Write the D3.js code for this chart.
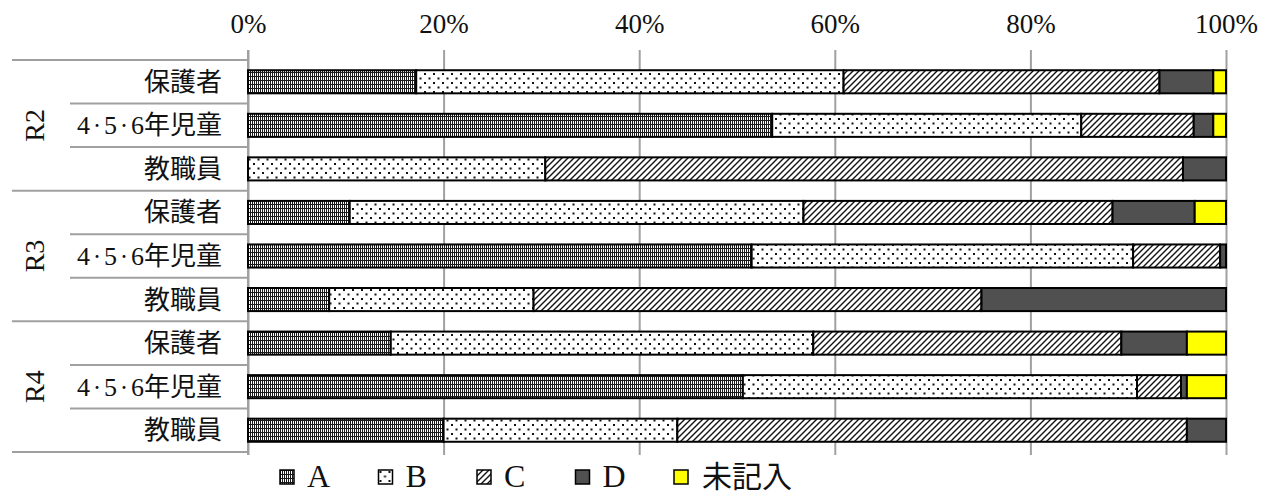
<!DOCTYPE html>
<html><head><meta charset="utf-8">
<script src="https://cdn.jsdelivr.net/npm/d3@7"></script>
<style>
body{margin:0;background:#fff;}
text{font-family:"Liberation Serif","Noto Sans CJK JP",serif;fill:#111;}
.cjk{font-family:"Noto Sans CJK JP",sans-serif;}
</style></head>
<body><svg id="chart" width="1272" height="493"></svg>
<script>
const groups = ["R2","R3","R4"];
const respondents = ["保護者","4・5・6年児童","教職員"];
const seriesNames = ["A","B","C","D","未記入"];
const valuesA = [17.2,53.6,0,   10.4,51.5,8.3,  14.6,50.6,20.0];
const valuesB = [43.7,31.6,30.4, 46.4,39.0,20.9, 43.2,40.3,23.9];
const valuesC = [32.3,11.5,65.2, 31.6,8.9,45.8,  31.5,4.5,52.1];
const valuesD = [5.5,2.0,4.4,    8.4,0.6,25.0,   6.7,0.6,4.0];
const valuesN = [1.3,1.3,0,      3.2,0,0,        4.0,4.0,0];
const tickValues = [0,20,40,60,80,100];

const seriesValues = [valuesA,valuesB,valuesC,valuesD,valuesN];
const rows = [];
groups.forEach((g,gi)=>respondents.forEach((r,ri)=>{
  const i = gi*respondents.length+ri;
  const o = {key:g+"|"+r, group:g, label:r};
  seriesNames.forEach((s,si)=>o[s]=seriesValues[si][i]);
  rows.push(o);
}));

const svg = d3.select("#chart");
const defs = svg.append("defs");
// A: dense dot grid pattern
const pA = defs.append("pattern").attr("id","pA").attr("patternUnits","userSpaceOnUse").attr("width",4).attr("height",4);
pA.append("rect").attr("width",4).attr("height",4).attr("fill","#fff");
[[0,0],[0,1],[0,2],[0,3],[2,0],[2,2],[1,0],[3,0],[2,1],[2,3]].forEach(([px,py])=>
  pA.append("rect").attr("x",px).attr("y",py).attr("width",1).attr("height",1).attr("fill","#1a1a1a"));
// B: sparse dots
const pB = defs.append("pattern").attr("id","pB").attr("patternUnits","userSpaceOnUse").attr("width",9).attr("height",9);
pB.append("rect").attr("width",9).attr("height",9).attr("fill","#fff");
pB.append("rect").attr("x",1).attr("y",1).attr("width",2).attr("height",2).attr("fill","#111");
pB.append("rect").attr("x",5.5).attr("y",5.5).attr("width",2).attr("height",2).attr("fill","#111");
// C: diagonal hatch
const pC = defs.append("pattern").attr("id","pC").attr("patternUnits","userSpaceOnUse").attr("width",6).attr("height",6);
pC.append("rect").attr("width",6).attr("height",6).attr("fill","#fff");
pC.append("path").attr("d","M-1,7 L7,-1 M-1,1 L1,-1 M5,7 L7,5").attr("stroke","#111").attr("stroke-width",1.4);

const fills = {"A":"url(#pA)","B":"url(#pB)","C":"url(#pC)","D":"#505050","未記入":"#ffff00"};

const m = {left:248, right:1226, top:60, bottom:452};
const x = d3.scaleLinear().domain([0,100]).range([m.left,m.right]);
const y = d3.scaleBand().domain(rows.map(d=>d.key)).range([m.top,m.bottom]).paddingInner(0.47).paddingOuter(0.235);
const yRow = d3.scaleBand().domain(rows.map(d=>d.key)).range([m.top,m.bottom]);

// gridlines
const grid = svg.append("g").attr("transform",`translate(0,${m.top})`)
  .call(d3.axisTop(x).tickValues(tickValues).tickSize(-(m.bottom-m.top)-3).tickFormat(""));
grid.select(".domain").remove();
grid.selectAll(".tick line").attr("stroke","#a0a0a0").attr("stroke-width",2).attr("y1",-10);

// top axis labels
const ax = svg.append("g").attr("transform",`translate(0,${m.top})`)
  .call(d3.axisTop(x).tickValues(tickValues).tickSize(0).tickPadding(0).tickFormat(d=>d+"%"));
ax.select(".domain").remove();
ax.selectAll("text").attr("y",-27).attr("font-size",27).attr("fill","#111").attr("dy",null);

// left structure lines
svg.append("line").attr("x1",m.left).attr("x2",m.left).attr("y1",m.top-10).attr("y2",m.bottom+3).attr("stroke","#a0a0a0").attr("stroke-width",2);
const sep = svg.append("g").attr("stroke","#a0a0a0").attr("stroke-width",2);
rows.forEach((d,i)=>{
  const yy = yRow(d.key);
  const ri = i%respondents.length;
  sep.append("line").attr("x1", ri===0?12:70).attr("x2",m.left).attr("y1",yy).attr("y2",yy);
});
sep.append("line").attr("x1",12).attr("x2",m.left).attr("y1",m.bottom).attr("y2",m.bottom);

// category labels (narrow middle dots)
const lab = svg.append("g").selectAll("text").data(rows).join("text")
  .attr("x",222).attr("y",d=>yRow(d.key)+yRow.bandwidth()/2+9)
  .attr("text-anchor","end").attr("font-size",26);
lab.each(function(d){
  const t = d3.select(this);
  const parts = d.label.split(/(・)/);
  parts.forEach((p,pi)=>{
    if(p==="") return;
    const ts = t.append("tspan").text(p);
    if(p==="・"){ ts.attr("class","cjk").attr("font-size",14).attr("dy",-4); }
    else if(pi>0 && parts[pi-1]==="・"){ ts.attr("dy",4); }
  });
});

// group labels
groups.forEach((g,gi)=>{
  const y0 = yRow(rows[gi*3].key), y1 = yRow(rows[gi*3+2].key)+yRow.bandwidth();
  svg.append("text").attr("transform",`translate(44,${(y0+y1)/2}) rotate(-90)`)
    .attr("text-anchor","middle").attr("font-size",28).text(g);
});

// stacked bars
const stack = d3.stack().keys(seriesNames)(rows);
const layers = svg.append("g").selectAll("g").data(stack).join("g")
  .attr("fill",d=>fills[d.key]);
layers.selectAll("rect").data(d=>d.filter(e=>e[1]-e[0]>0)).join("rect")
  .attr("x",d=>x(d[0])).attr("width",d=>x(d[1])-x(d[0]))
  .attr("y",d=>y(d.data.key)).attr("height",y.bandwidth())
  .attr("stroke","#000").attr("stroke-width",2);

// legend
const legX = d3.scalePoint().domain(seriesNames).range([280,674]);
const leg = svg.append("g").selectAll("g").data(seriesNames).join("g")
  .attr("transform",d=>`translate(${legX(d)},470)`);
leg.append("rect").attr("width",14).attr("height",14).attr("fill",d=>fills[d]).attr("stroke","#000").attr("stroke-width",1.5);
leg.append("text").attr("x",d=>d==="未記入"?28:27).attr("y",17)
  .attr("font-size",d=>d==="未記入"?30:32).text(d=>d);
</script></body></html>
